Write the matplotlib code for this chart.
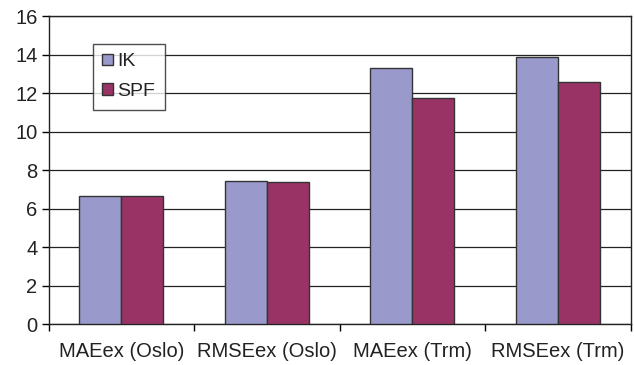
import matplotlib.pyplot as plt
import numpy as np

categories = ['MAEex (Oslo)', 'RMSEex (Oslo)', 'MAEex (Trm)', 'RMSEex (Trm)']
ik = [6.66, 7.45, 13.3, 13.85]
spf = [6.65, 7.36, 11.72, 12.59]

plt.rcParams['font.family'] = ['Liberation Sans', 'DejaVu Sans']

fig = plt.figure(figsize=(6.34, 3.65), dpi=100)
ax = fig.add_axes([0.0765, 0.1123, 0.918, 0.8438])

x = np.arange(len(categories))
w = 0.29
ax.bar(x - w / 2, ik, w, color='#9999CC', edgecolor='#333333', linewidth=1, label='IK', zorder=3)
ax.bar(x + w / 2, spf, w, color='#993366', edgecolor='#333333', linewidth=1, label='SPF', zorder=3)

ax.set_xlim(-0.5, len(categories) - 0.5)
ax.set_ylim(0, 16)
ax.set_yticks(range(0, 17, 2))
ax.yaxis.grid(True, color='#222222', linewidth=0.9)
ax.set_axisbelow(True)

ax.set_xticks(x)
ax.set_xticklabels(categories)
ax.tick_params(axis='x', length=0, pad=13, labelsize=14.5, labelcolor='#222222')
ax.set_xticks(np.arange(-0.5, len(categories) + 0.5, 1), minor=True)
ax.tick_params(axis='x', which='minor', length=5, width=1)
ax.tick_params(axis='y', length=5, width=1, labelsize=14.5, pad=3, labelcolor='#222222')

for s in ax.spines.values():
    s.set_linewidth(1)
    s.set_color('#222222')

leg = ax.legend(loc='upper left', bbox_to_anchor=(0.076, 0.91), frameon=True, fancybox=False,
                edgecolor='#222222', fontsize=14, handlelength=0.55, handleheight=0.55,
                handletextpad=0.2, labelspacing=0.65, borderpad=0.5, borderaxespad=0)
leg.get_frame().set_linewidth(1)
for t in leg.get_texts():
    t.set_color('#222222')

plt.savefig('out.png', dpi=100)
plt.close()
